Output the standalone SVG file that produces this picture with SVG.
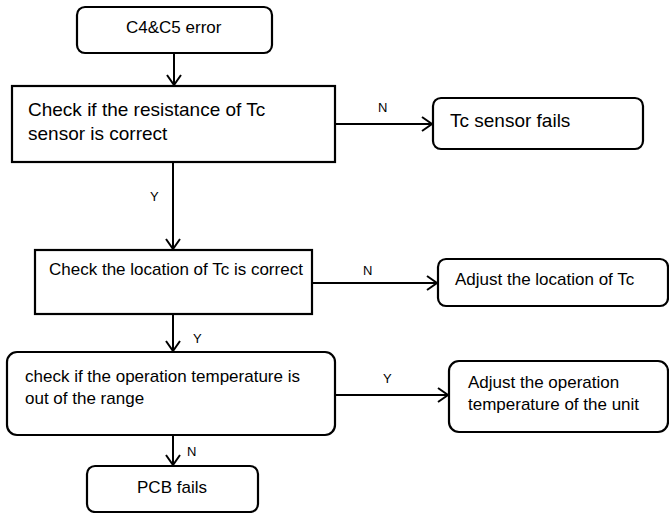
<svg xmlns="http://www.w3.org/2000/svg" width="669" height="513" viewBox="0 0 669 513">
<defs>
<marker id="arr" markerUnits="userSpaceOnUse" markerWidth="14" markerHeight="16" refX="11" refY="7" orient="auto" overflow="visible">
<path d="M1,0 L11,7 L1,14" fill="none" stroke="#000" stroke-width="2"/>
</marker>
<style>
.box{fill:#fff;stroke:#000;stroke-width:2.2}
.t{font-family:"Liberation Sans",Arial,sans-serif;fill:#000}
.big{font-size:19px}
.sm{font-size:17px}
.lab{font-size:13px}
.c{stroke:#000;stroke-width:2;fill:none;marker-end:url(#arr)}
</style>
</defs>
<rect width="669" height="513" fill="#fff"/>
<g id="n1"><rect class="box" x="77" y="7" width="195" height="46" rx="8"/><text class="t sm" x="126" y="33">C4&amp;C5 error</text></g>
<g id="n2"><rect class="box" x="12" y="86" width="323" height="76"/><text class="t big" x="28" y="116">Check if the resistance of Tc</text><text class="t big" x="28" y="140">sensor is correct</text></g>
<g id="n3"><rect class="box" x="433" y="98" width="210" height="51" rx="8"/><text class="t big" x="450" y="127">Tc sensor fails</text></g>
<g id="n4"><rect class="box" x="35" y="250" width="277" height="64"/><text class="t sm" x="49" y="275">Check the location of Tc is correct</text></g>
<g id="n5"><rect class="box" x="438" y="259" width="230" height="47" rx="8"/><text class="t sm" x="455" y="285">Adjust the location of Tc</text></g>
<g id="n6"><rect class="box" x="7" y="352" width="328" height="83" rx="10"/><text class="t sm" x="25" y="382">check if the operation temperature is</text><text class="t sm" x="25" y="404">out of the range</text></g>
<g id="n7"><rect class="box" x="449" y="361" width="219" height="71" rx="10"/><text class="t sm" x="468" y="388">Adjust the operation</text><text class="t sm" x="468" y="410">temperature of the unit</text></g>
<g id="n8"><rect class="box" x="87" y="466" width="171" height="46" rx="8"/><text class="t sm" x="172" y="493" text-anchor="middle">PCB fails</text></g>
<g id="connectors">
<line class="c" x1="174" y1="53" x2="174" y2="85"/>
<line class="c" x1="335" y1="124" x2="432" y2="124"/>
<text class="t lab" x="378" y="112">N</text>
<line class="c" x1="173" y1="162" x2="173" y2="249"/>
<text class="t lab" x="150" y="201">Y</text>
<line class="c" x1="312" y1="283" x2="437" y2="283"/>
<text class="t lab" x="363" y="275">N</text>
<line class="c" x1="173" y1="314" x2="173" y2="351"/>
<text class="t lab" x="193" y="343">Y</text>
<line class="c" x1="335" y1="395" x2="448" y2="395"/>
<text class="t lab" x="383" y="383">Y</text>
<line class="c" x1="173" y1="435" x2="173" y2="465"/>
<text class="t lab" x="187" y="456">N</text>
</g>
</svg>
